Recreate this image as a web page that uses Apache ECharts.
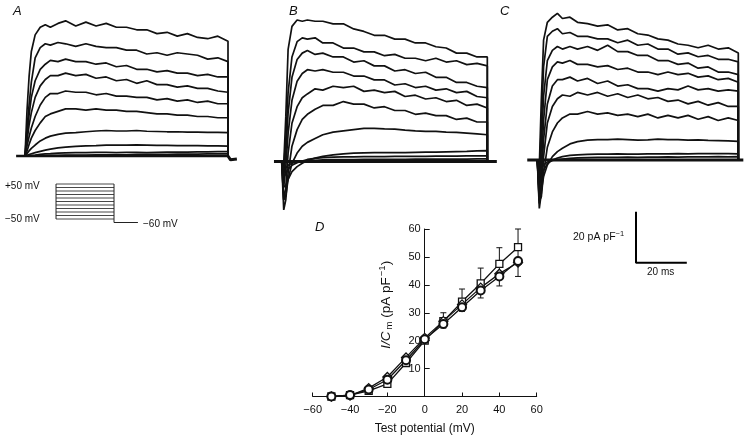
<!DOCTYPE html>
<html><head><meta charset="utf-8">
<script src="https://cdn.jsdelivr.net/npm/echarts@6/dist/echarts.min.js"></script>
<style>html,body{margin:0;padding:0;background:#fff}#c{width:750px;height:439px}</style>
</head><body><div id="c"></div>
<script>
// time samples (ms) for current traces, pulse ends at 80 ms
const T = [0,0.8,1.6,2.5,4,6,8,10,13,16,20,24,28,32,36,40,44,48,52,56,60,64,68,72,76,80];
const PULSE_END = 80;
// Panel A traces (pA/pF)
const a1 = [0,18,31,41,47.5,50.5,51.5,50.5,52,53,51,52.5,51,52,50.5,50.5,49.5,49.5,48,48.5,47,48,46.5,46,47,45];
const a2 = [0,11,20,29,38.5,42.5,44,43.5,44.5,44,43,44,43,42.5,42.5,41.5,41.5,40,40.5,39.5,40.5,40,39.5,38,38.5,37];
const a3 = [0,8,16,23,29.5,34,36,37.5,37,38,37,37,36,36.5,35,35.5,34,34,33,33.5,32.5,32.5,31.5,32,31,31];
const a4 = [0,6,12,17,23,27.5,30,31.5,31.5,32.5,31.5,32,30.5,31,29.5,30,28.5,29.5,28,28,27,27.5,26.5,26.5,25.5,25];
const a5 = [0,4,7.5,11,15.5,20,23,24.5,24.5,25.5,25,25,24,24.5,23.5,23.5,23,23,22,22.5,21.5,22,21,21.5,20.5,20.5];
const a6 = [0,2,4.5,7,10,13,15.5,16.5,17.5,18.5,18.5,18,18.5,18,18,17.5,17.5,17,16.5,16.5,16,16,15.5,15.5,15,15];
const a7 = [0,1,2,3,4.3,5.9,7,7.8,8.5,9,9.2,9.5,9.8,10,9.8,9.8,10,9.7,9.6,9.5,9.5,9.4,9.4,9.3,9.3,9.2];
const a8 = [0,0.3,0.6,0.9,1.3,1.8,2.3,2.7,3.2,3.5,3.8,4,4.1,4.3,4.3,4.3,4.4,4.3,4.2,4.2,4.1,4.1,4.1,4,4,3.9];
const a9 = [0,0.1,0.2,0.3,0.4,0.6,0.8,0.9,1.1,1.2,1.3,1.3,1.4,1.4,1.3,1.4,1.4,1.3,1.4,1.5,1.5,1.5,1.6,1.6,1.7,1.7];
const a10 = [0,0,0,0.1,0.1,0.2,0.2,0.3,0.3,0.4,0.4,0.4,0.5,0.5,0.5,0.5,0.6,0.6,0.6,0.6,0.7,0.7,0.7,0.8,0.8,0.8];
// Panel B traces
const b1 = [0,-1,17.5,44,53,55.5,55,55.5,55,55,54,54,52,51,49.5,49.5,48,48,46.5,46.5,45,44.5,42.5,42.5,41,41];
const b2 = [0,-2,8.5,27,41,47,48.5,48,48.5,46.5,46.5,44.5,44.5,43,43,41.5,42,40.5,40.5,39.5,40.5,39,39.5,38,38.5,37.5];
const b3 = [0,-6,3.3,19,33,40,42.5,43.5,42,42.5,41,41,39,39.5,37.5,37.5,35.5,36,34.5,35,33,33,31,31,29.5,29];
const b4 = [0,-10,-2,11,24,31.5,34.5,36,35.5,36,35,35,33.5,33.5,32,32,30,30.5,29,29.5,28,28.5,27,27.5,25.5,25];
const b5 = [0,-15,-10,3.3,15,21.5,25,26.5,28.5,28,29.5,29,29.5,27.5,28,27,27.5,25.5,26,24.5,25,23.5,24,22,22.5,21];
const b6 = [0,-19,-15,-4.5,6,12.5,16.5,18.5,20.5,22,22,23.5,22.5,22.5,21,21.5,20,20,18.5,19,18,18,16.5,17,15.5,15.5];
const b7 = [0,-15,-13.5,-7,-0.7,3.3,6,7.5,9,10.5,11.5,12,12.5,13,13,12.8,12.7,12.3,12,11.8,11.8,11.5,11.4,11.1,10.8,10.5];
const b8 = [0,-10,-9.5,-7,-4,-2,-0.7,0.4,1.3,2,2.6,3,3.3,3.4,3.5,3.5,3.5,3.5,3.6,3.7,3.7,3.8,3.9,4,4.2,4.3];
const b9 = [0,-6,-5,-3,-1.5,-0.5,0.2,0.8,1.2,1.5,1.7,1.8,1.8,1.9,1.9,1.9,2,2,2,2,2.1,2.1,2.1,2.2,2.2,2.2];
const b10 = [0,-3,-2.5,-1.5,-0.7,-0.2,0.1,0.3,0.5,0.6,0.7,0.7,0.7,0.8,0.8,0.8,0.8,0.8,0.9,0.9,0.9,0.9,0.9,0.9,1,1];
// Panel C traces
const c1 = [0,-2.6,23.5,47,54,56,57.5,55.5,56,54,53.5,52.5,53,51,51.5,49.5,49,47.5,47,45.5,45,44,45,43.5,44,42];
const c2 = [0,-5,13,36.5,48.5,50.5,51.5,49.5,50,48.5,48.5,47.5,47.5,46,47,45,45.5,43.5,43.5,41.5,42,40.5,41,39.5,39.5,38.5];
const c3 = [0,-9,5,25,39,43,44.5,43.5,44.5,43.5,44.5,43,45,42.5,42.5,41,41,39,39,37.5,38,36,36.5,34.5,34.5,33.5];
const c4 = [0,-13,-2.6,15.5,31.5,36.5,38.5,38,39,37.5,37.5,36.5,37,35.5,36,34.5,34.5,33.5,34.5,33.5,34,32.5,33,31.5,32,30.5];
const c5 = [0,-17,-8,8,22,29,31.5,31.5,32.5,31,32,30,31,29,29.5,28,28,27,28,27.5,29,27.5,28,27,27.5,27];
const c6 = [0,-19,-13,1.3,14.5,21,24,25.5,25,26.5,25.5,26.5,25,26,24.5,25.5,24,24.5,23,23.5,22,23,21.5,22.5,21,21];
const c7 = [0,-16,-14.5,-5,5,11,14.5,16.5,18,18,19,18,18.5,17.5,18,17,18,16.5,17.5,16.5,17.5,16,17,15.5,16.5,15.5];
const c8 = [0,-13,-12,-6.5,-2,1.3,3.3,4.6,6.3,7.2,7.8,8,8,8.2,8,7.8,7.9,8.2,8,8,7.8,7.9,7.7,7.6,7.5,7.3];
const c9 = [0,-8,-7,-4,-1.5,0,0.8,1.3,1.8,2,2.2,2.3,2.3,2.4,2.3,2.3,2.4,2.4,2.4,2.5,2.4,2.5,2.5,2.5,2.5,2.4];
const c10 = [0,-4,-3.5,-2,-0.8,-0.2,0.2,0.4,0.6,0.8,0.9,1,1,1,1.1,1,1.1,1.1,1.2,1.1,1.2,1.2,1.2,1.3,1.2,1.3];
// Voltage protocol (mV)
const stepsV = [-50,-40,-30,-20,-10,0,10,20,30,40,50];
const holdingV = -60;
// Panel D: I-V data
const ivV = [-50,-40,-30,-20,-10,0,10,20,30,40,50];
const ivSquare = [0,0.5,2,4.5,12,20,27,34,40.5,47.5,53.5];
const ivCircle = [0,0.5,2.5,6,13,20.5,26,32,38,43,48.5];
const ivDiamond = [0,0.3,3,7,14,21,27,33,39,44,48];
const sqErrUp = [0,0,0,0,0.5,1,3,4.5,5.5,5.8,6.5];
const circErrDown = [0,0,0,0,0.5,1,1.5,1.5,2.7,3.4,5.5];
const xTicks = [-60,-40,-20,0,20,40,60];

const FONT = '"Liberation Sans", Arial, sans-serif';
const chart = echarts.init(document.getElementById('c'), null, {renderer:'canvas'});

function trace(vals, g, w) {
  return {type:'line', xAxisIndex:g, yAxisIndex:g, symbol:'none', silent:true, clip:false,
    data: T.map((t,i)=>[t, vals[i]]).concat([[PULSE_END, 0]]),
    lineStyle:{color:'#111', width:w||1.7}};
}
function seg(pts, g, w, color) {
  return {type:'line', xAxisIndex:g, yAxisIndex:g, symbol:'none', silent:true, clip:false,
    data: pts, lineStyle:{color:color||'#111', width:w}};
}
const hidden = (g, min, max) => ({gridIndex:g, type:'value', min, max, show:false});

const series = [];
[a1,a2,a3,a4,a5,a6,a7,a8,a9,a10].forEach(v=>series.push(trace(v,0)));
[b1,b2,b3,b4,b5,b6,b7,b8,b9,b10].forEach(v=>series.push(trace(v,1)));
[c1,c2,c3,c4,c5,c6,c7,c8,c9,c10].forEach(v=>series.push(trace(v,2)));
// baselines and stubs
series.push(seg([[-3.5,0],[PULSE_END,0]],0,2.5));
series.push(seg([[PULSE_END,0],[81,-1.5],[83.5,-1.2]],0,3));
series.push(seg([[-3,0],[PULSE_END,0],[83.7,0]],1,3));
series.push(seg([[-4,0],[PULSE_END,0],[82,0]],2,3));
// protocol
stepsV.forEach(v=>series.push(seg([[0,v],[PULSE_END,v]],3,0.9,'#333')));
series.push(seg([[0,stepsV[0]],[0,stepsV[stepsV.length-1]]],3,1,'#222'));
series.push(seg([[PULSE_END,stepsV[stepsV.length-1]],[PULSE_END,holdingV],[113,holdingV]],3,1,'#222'));
// scale bar
series.push(seg([[0,20],[0,0],[20,0]],4,2,'#000'));
// panel D error bars
const errData = ivV.map((v,i)=>[v, ivCircle[i]-circErrDown[i], ivSquare[i]+sqErrUp[i]]);
series.push({type:'custom', xAxisIndex:5, yAxisIndex:5, silent:true, z:1,
  renderItem:(params, api)=>{
    const x = api.value(0), lo = api.value(1), hi = api.value(2);
    const p1 = api.coord([x, lo]), p2 = api.coord([x, hi]);
    const st = {stroke:'#111', lineWidth:1};
    return {type:'group', children:[
      {type:'line', shape:{x1:p1[0],y1:p1[1],x2:p2[0],y2:p2[1]}, style:st},
      {type:'line', shape:{x1:p1[0]-3,y1:p1[1],x2:p1[0]+3,y2:p1[1]}, style:st},
      {type:'line', shape:{x1:p2[0]-3,y1:p2[1],x2:p2[0]+3,y2:p2[1]}, style:st}
    ]};
  },
  data: errData});
const ivSeries = (vals, sym, size, bw) => ({type:'line', xAxisIndex:5, yAxisIndex:5, z:3, silent:true,
  data: ivV.map((v,i)=>[v, vals[i]]), symbol:sym, symbolSize:size, showAllSymbol:true,
  itemStyle:{color:'#fff', borderColor:'#111', borderWidth:bw}, lineStyle:{color:'#111', width:1.3}});
series.push(ivSeries(ivSquare,'rect',7,1.3));
series.push(ivSeries(ivDiamond,'diamond',9,1.3));
series.push(ivSeries(ivCircle,'circle',8,2));

const txt = (text, x, y, size, extra) => ({type:'text', silent:true,
  style:Object.assign({text, x, y, fill:'#111', font: size+'px '+FONT, textVerticalAlign:'middle'}, extra||{})});

const option = {
  animation:false,
  backgroundColor:'#fff',
  grid:[
    {left:14.85, top:3, width:223.3, height:216.75},
    {left:271.4, top:8.5, width:226.2, height:216.75},
    {left:527.25, top:7, width:221.1, height:216.75},
    {left:52.4, top:180.5, width:90.6, height:45.5},
    {left:636, top:198.95, width:76.2, height:63.75},
    {left:312.7, top:229, width:224, height:167.5}
  ],
  xAxis:[
    hidden(0,-4,84), hidden(1,-4,84), hidden(2,-4,84), hidden(3,-5,120), hidden(4,0,30),
    {gridIndex:5, type:'value', min:xTicks[0], max:xTicks[xTicks.length-1], interval:20,
     axisLine:{onZero:false, lineStyle:{color:'#111', width:1}},
     axisTick:{inside:true, length:4, lineStyle:{color:'#111'}},
     splitLine:{show:false},
     axisLabel:{color:'#111', fontSize:11, fontFamily:FONT, margin:8, formatter:v=>String(v).replace('-','\u2212')},
     name:'Test potential (mV)', nameLocation:'middle', nameGap:26,
     nameTextStyle:{color:'#111', fontSize:12, fontFamily:FONT}}
  ],
  yAxis:[
    hidden(0,-25,60), hidden(1,-25,60), hidden(2,-25,60), hidden(3,-70,60), hidden(4,0,25),
    {gridIndex:5, type:'value', min:0, max:60, interval:10, position:'left', offset:-112,
     axisLine:{onZero:false, lineStyle:{color:'#111', width:1}},
     axisTick:{inside:true, length:5, lineStyle:{color:'#111'}},
     splitLine:{show:false},
     axisLabel:{color:'#111', fontSize:11, fontFamily:FONT, margin:4, formatter:v=>v===0?'':String(v)},
     name:'{i|I/C}{sub|m}{n| (pA pF}{sup|\u22121}{n|)}', nameLocation:'middle', nameGap:30, nameRotate:90,
     nameTextStyle:{color:'#111', fontFamily:FONT, fontSize:13.5,
       rich:{i:{fontStyle:'italic', fontSize:13.5, fontFamily:FONT, color:'#111', padding:[0,0,0,16]},
             sub:{fontSize:9.5, fontFamily:FONT, color:'#111', padding:[7,0,0,2]},
             sup:{fontSize:9.5, fontFamily:FONT, color:'#111', padding:[0,0,7,1]},
             n:{fontSize:13.5, fontFamily:FONT, color:'#111'}}}}
  ],
  graphic:[
    txt('A', 13, 11, 13, {font:'italic 13px '+FONT}),
    txt('B', 289, 11, 13, {font:'italic 13px '+FONT}),
    txt('C', 500, 11, 13, {font:'italic 13px '+FONT}),
    txt('D', 315, 227, 13, {font:'italic 13px '+FONT}),
    txt('+50 mV', 5, 186, 10),
    txt('\u221250 mV', 5, 219, 10),
    txt('\u221260 mV', 143, 224, 10),
    {type:'text', silent:true, style:{text:'20 pA pF{s|\u22121}', x:573, y:237, fill:'#111',
      font:'10.5px '+FONT, textVerticalAlign:'middle',
      rich:{s:{fontSize:7.5, fontFamily:FONT, fill:'#111', padding:[0,0,6,0]}}}},
    txt('20 ms', 647, 272, 10)
  ],
  series
};
chart.setOption(option);
</script></body></html>
